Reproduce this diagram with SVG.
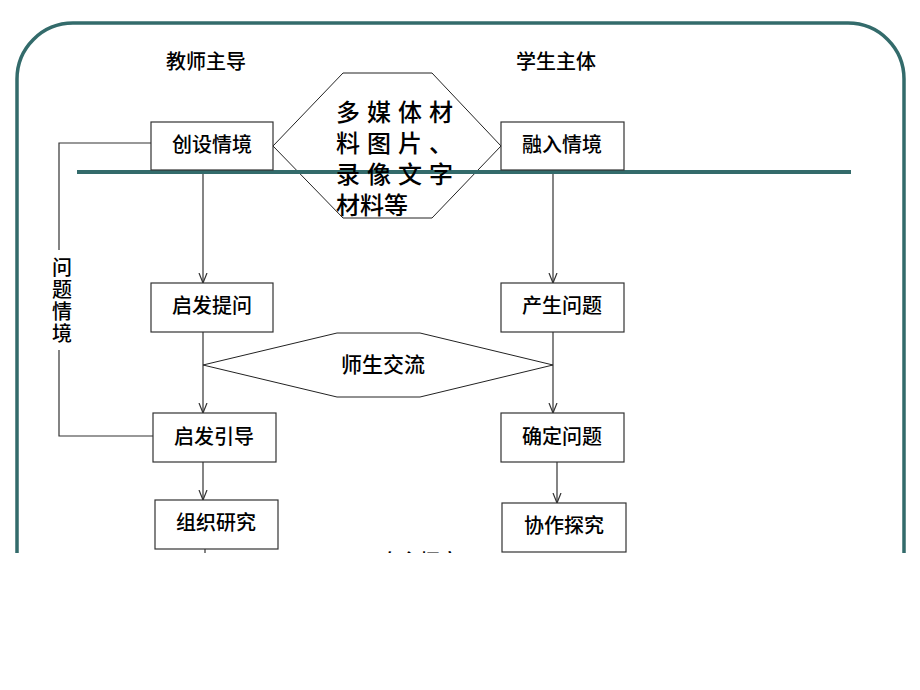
<svg xmlns="http://www.w3.org/2000/svg" width="920" height="690" viewBox="0 0 920 690">
<defs>
<style>
.t{font-family:"Noto Sans CJK SC","Liberation Sans",sans-serif;fill:#000;font-weight:500;}
.m{font-size:24px;}
.box{fill:#fff;stroke:#333;stroke-width:1.2;}
.hex{fill:#fff;stroke:#222;stroke-width:1;}
.c{fill:none;stroke:#333;stroke-width:1.2;}
.teal{fill:none;stroke:#336b6b;}
</style>
<marker id="ah" viewBox="0 0 10 10" refX="10" refY="5" markerWidth="10" markerHeight="10" markerUnits="userSpaceOnUse" orient="auto">
<path d="M0,1 L10,5 L0,9" fill="none" stroke="#333" stroke-width="1.2"/>
</marker>
</defs>
<rect width="920" height="690" fill="#fff"/>
<rect id="frame" x="17" y="23" width="887" height="640" rx="56" ry="56" class="teal" stroke-width="3.5"/>
<text class="t" x="206" y="69" font-size="20" text-anchor="middle">教师主导</text>
<text class="t" x="556" y="69" font-size="20" text-anchor="middle">学生主体</text>
<g id="connectors">
<polyline class="c" points="151,143 59,143 59,250"/>
<polyline class="c" points="59,350 59,436 153,436"/>
<line class="c" x1="203" y1="170" x2="203" y2="283" marker-end="url(#ah)"/>
<line class="c" x1="553" y1="170" x2="553" y2="283" marker-end="url(#ah)"/>
<line class="c" x1="203" y1="332" x2="203" y2="413" marker-end="url(#ah)"/>
<line class="c" x1="553" y1="332" x2="553" y2="413" marker-end="url(#ah)"/>
<line class="c" x1="203" y1="462" x2="203" y2="500" marker-end="url(#ah)"/>
<line class="c" x1="557" y1="462" x2="557" y2="503" marker-end="url(#ah)"/>
<line class="c" x1="205" y1="549" x2="205" y2="560"/>
</g>
<text class="t" x="62" y="257" font-size="20" writing-mode="tb" letter-spacing="2">问题情境</text>
<g id="media">
<polygon class="hex" points="343,73 432,73 501,146 432,218 343,218 273,146"/>
</g>
<line class="teal" x1="77" y1="172" x2="851" y2="172" stroke-width="4"/>
<g id="media-text">
<text class="t m" x="336" y="121" letter-spacing="7">多媒体材</text>
<text class="t m" x="336" y="152" letter-spacing="7">料图片、</text>
<text class="t m" x="336" y="183" letter-spacing="7">录像文字</text>
<text class="t m" x="336" y="214">材料等</text>
</g>
<g id="n1"><rect class="box" x="151" y="122" width="122" height="48"/><text class="t" x="212" y="152" font-size="20" text-anchor="middle">创设情境</text></g>
<g id="n2"><rect class="box" x="501" y="122" width="123" height="48"/><text class="t" x="562" y="152" font-size="20" text-anchor="middle">融入情境</text></g>
<g id="n3"><rect class="box" x="151" y="283" width="122" height="49"/><text class="t" x="212" y="313" font-size="20" text-anchor="middle">启发提问</text></g>
<g id="n4"><rect class="box" x="501" y="283" width="123" height="49"/><text class="t" x="562" y="313" font-size="20" text-anchor="middle">产生问题</text></g>
<g id="exchange"><polygon class="hex" points="203,365 337,333 420,333 553,365 420,397 337,397"/><text class="t" x="383" y="372" font-size="21" text-anchor="middle">师生交流</text></g>
<g id="n5"><rect class="box" x="153" y="413" width="123" height="49"/><text class="t" x="214" y="444" font-size="20" text-anchor="middle">启发引导</text></g>
<g id="n6"><rect class="box" x="501" y="413" width="123" height="49"/><text class="t" x="562" y="444" font-size="20" text-anchor="middle">确定问题</text></g>
<g id="n7"><rect class="box" x="155" y="500" width="123" height="49"/><text class="t" x="216" y="530" font-size="20" text-anchor="middle">组织研究</text></g>
<g id="n8"><rect class="box" x="502" y="503" width="124" height="49"/><text class="t" x="564" y="533" font-size="20" text-anchor="middle">协作探究</text></g>
<text class="t" x="420" y="569" font-size="20" text-anchor="middle">自主探究</text>
<rect x="0" y="553" width="920" height="137" fill="#fff"/>
</svg>
